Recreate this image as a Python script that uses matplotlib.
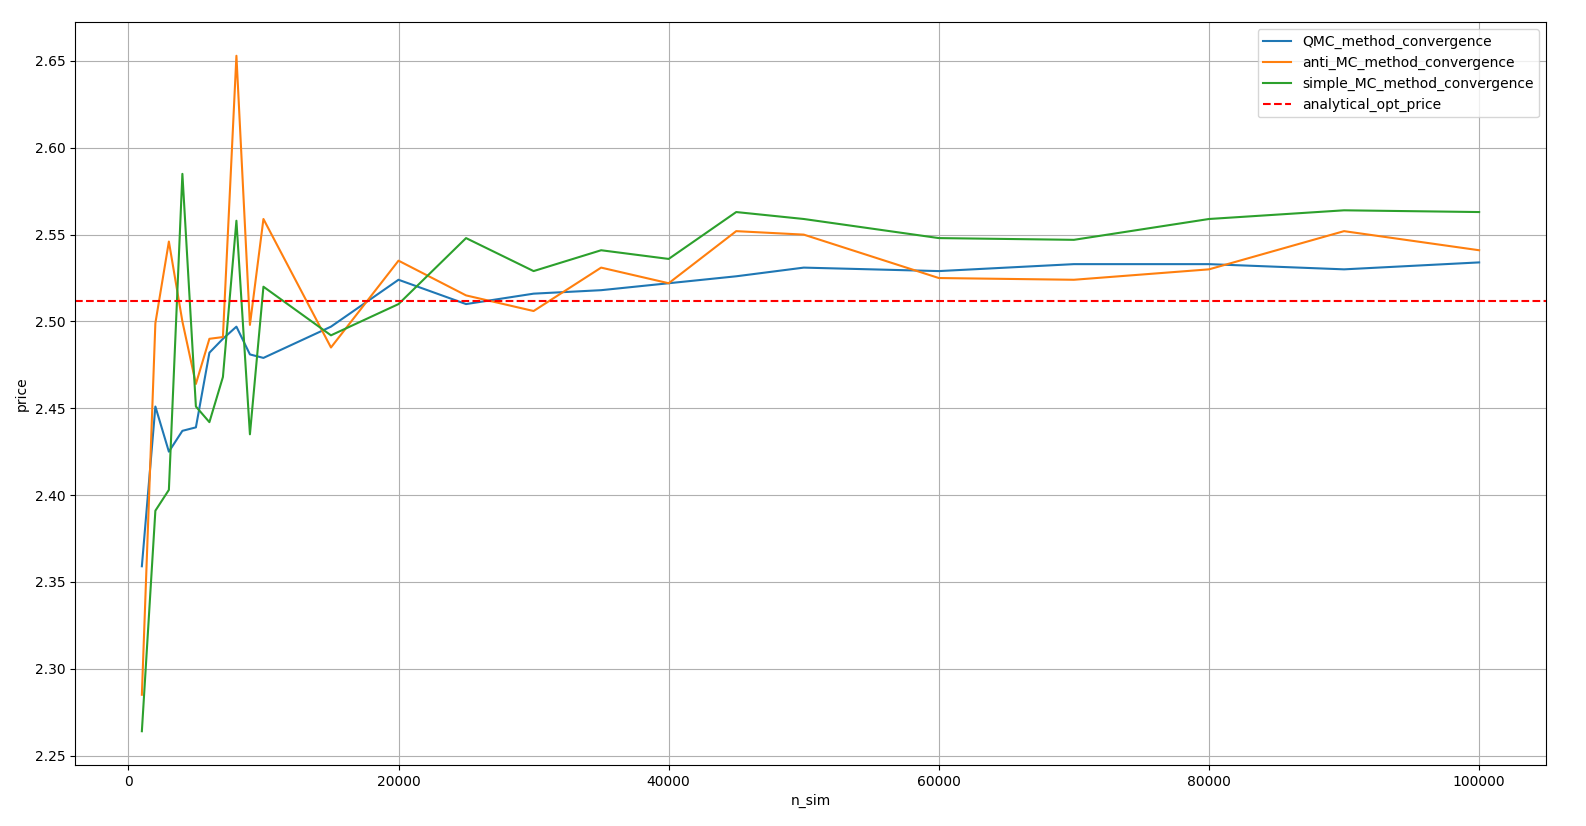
import matplotlib
matplotlib.use("Agg")
import matplotlib.pyplot as plt

n_sim = [1000,2000,3000,4000,5000,6000,7000,8000,9000,10000,15000,20000,25000,30000,35000,40000,45000,50000,60000,70000,80000,90000,100000]
qmc = [2.359,2.451,2.425,2.437,2.439,2.482,2.490,2.497,2.481,2.479,2.497,2.524,2.510,2.516,2.518,2.522,2.526,2.531,2.529,2.533,2.533,2.530,2.534]
anti = [2.285,2.499,2.546,2.500,2.464,2.490,2.491,2.653,2.498,2.559,2.485,2.535,2.515,2.506,2.531,2.522,2.552,2.550,2.525,2.524,2.530,2.552,2.541]
simple = [2.264,2.391,2.403,2.585,2.451,2.442,2.468,2.558,2.435,2.520,2.492,2.510,2.548,2.529,2.541,2.536,2.563,2.559,2.548,2.547,2.559,2.564,2.563]
analytical_price = 2.5118

fig = plt.figure(figsize=(15.86, 8.26), dpi=100)
ax = fig.add_axes([75/1586, 1-765/826, (1546-75)/1586, (765-22)/826])
ax.plot(n_sim, qmc, label="QMC_method_convergence")
ax.plot(n_sim, anti, label="anti_MC_method_convergence")
ax.plot(n_sim, simple, label="simple_MC_method_convergence")
ax.axhline(analytical_price, color="red", linestyle="--", label="analytical_opt_price")
ax.set_xlabel("n_sim")
ax.set_ylabel("price")
ax.set_yticks([2.25,2.30,2.35,2.40,2.45,2.50,2.55,2.60,2.65])
ax.grid(True)
ax.legend(loc="upper right")
fig.savefig("out.png", dpi=100)
